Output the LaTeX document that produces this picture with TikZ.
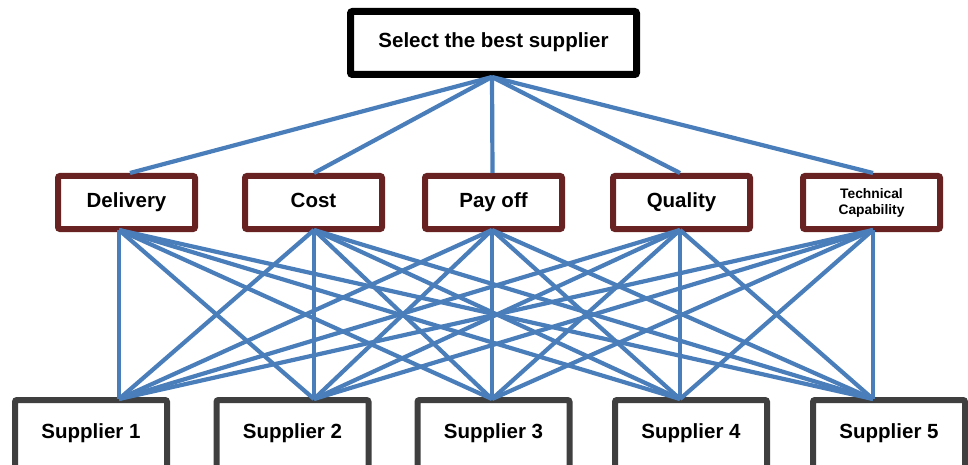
\documentclass[tikz,border=0pt]{standalone}
\usepackage{fontspec}
\setmainfont{Liberation Sans}
\definecolor{linkblue}{HTML}{4A7EBB}
\definecolor{critred}{HTML}{682222}
\definecolor{suppgray}{HTML}{3F3F3F}
\begin{document}
\begin{tikzpicture}[x=1pt,y=-1pt,
  boxbase/.style={fill=white, rounded corners=2pt, inner sep=0pt,
    font=\fontsize{20.5}{24}\selectfont\bfseries},
  oneline/.style={text height=14pt, text depth=4pt},
  goal/.style={boxbase, oneline, draw=black, line width=7pt,
    minimum width=286pt, minimum height=63pt},
  crit/.style={boxbase, draw=critred, line width=6pt,
    minimum width=137pt, minimum height=53pt},
  supp/.style={boxbase, draw=suppgray, line width=6pt,
    minimum width=152pt, text height=38pt, text depth=38pt, anchor=base},
  link/.style={draw=linkblue, line width=4.2pt}
]
\useasboundingbox (0,0) rectangle (968,465);
\clip (0,0) rectangle (968,465);

% goal
\node[goal] (goal) at (493.5,43) {Select the best supplier};

% criteria
\node[crit, oneline] (c1) at (126.5,202.5) {Delivery};
\node[crit, oneline] (c2) at (313.5,202.5) {Cost};
\node[crit, oneline] (c3) at (493.5,202.5) {Pay off};
\node[crit, oneline] (c4) at (681.5,202.5) {Quality};
\node[crit, align=center, font=\fontsize{13.8}{16}\selectfont\bfseries]
  (c5) at (871.5,202.5) {Technical\\Capability};

% alternatives
\node[supp] (s1) at (91,438) {Supplier 1};
\node[supp] (s2) at (292.5,438) {Supplier 2};
\node[supp] (s3) at (493.5,438) {Supplier 3};
\node[supp] (s4) at (691,438) {Supplier 4};
\node[supp] (s5) at (889,438) {Supplier 5};

% attachment points on the criteria boxes
\coordinate (ct1) at ([xshift=3.5pt]c1.north);
\coordinate (ct2) at ([xshift=0.5pt]c2.north);
\coordinate (ct3) at ([xshift=-1pt]c3.north);
\coordinate (ct4) at ([xshift=-1.5pt]c4.north);
\coordinate (ct5) at ([xshift=1.5pt]c5.north);
\coordinate (cb1) at ([xshift=-7.5pt,yshift=2pt]c1.south);
\coordinate (cb2) at ([xshift=0.5pt,yshift=2pt]c2.south);
\coordinate (cb3) at ([xshift=-1.5pt,yshift=2pt]c3.south);
\coordinate (cb4) at ([xshift=-1.5pt,yshift=2pt]c4.south);
\coordinate (cb5) at ([xshift=1.5pt,yshift=2pt]c5.south);
\foreach \j in {1,...,5}
  \coordinate (st\j) at ([yshift=-2pt]s\j.north -| cb\j);
\coordinate (gb) at ([xshift=-1.5pt,yshift=1pt]goal.south);

% goal to criteria
\foreach \i in {1,...,5}
  \draw[link] (gb) -- (ct\i);

% criteria to alternatives
\foreach \i in {1,...,5}
  \foreach \j in {1,...,5}
    \draw[link] (cb\i) -- (st\j);
\end{tikzpicture}
\end{document}
